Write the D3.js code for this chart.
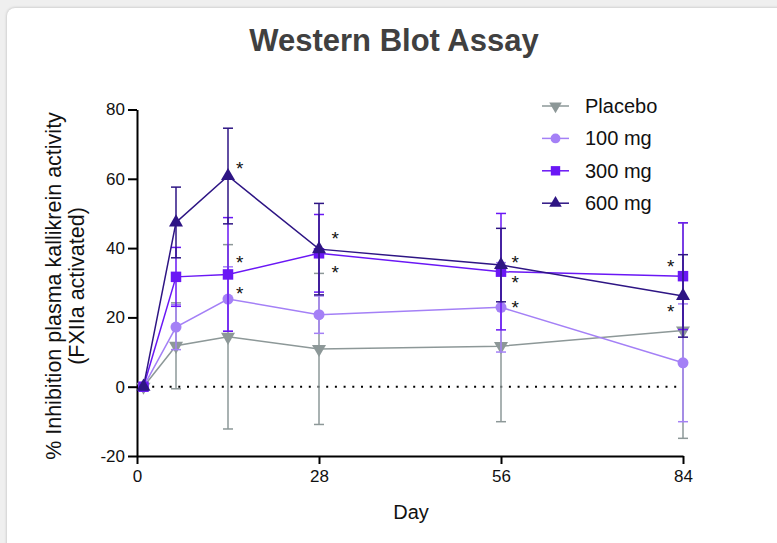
<!DOCTYPE html>
<html>
<head>
<meta charset="utf-8">
<script src="https://cdn.jsdelivr.net/npm/d3@7"></script>
<style>
  html, body { margin: 0; padding: 0; background: #efefef; }
  body { width: 777px; height: 543px; overflow: hidden; position: relative; }
  #card {
    position: absolute; left: 7px; top: 8px; width: 800px; height: 560px;
    background: #fff; border-radius: 8px;
    box-shadow: 0 0 3px rgba(0,0,0,0.25);
  }
  #chart-area { position: absolute; left: 0; top: 0; }
  text { font-family: Arial, "Liberation Sans", Helvetica, sans-serif; }
</style>
</head>
<body>
<div id="card"></div>
<div id="chart-area"></div>
<script>
var width = 777;
var height = 543;

// days of sampling
var days = [1, 6, 14, 28, 56, 84];
var xTicks = [0, 28, 56, 84];
var yTicks = [-20, 0, 20, 40, 60, 80];

// means and SD
var placebo    = [0, 11.8, 14.4, 10.9, 11.7, 16.2];
var placeboSD  = [0, 12.4, 26.6, 21.8, 21.8, 31.1];
var mg100      = [0, 17.2, 25.3, 20.8, 22.9, 6.9];
var mg100SD    = [0, 6.5, 9.3, 5.4, 12.9, 17.0];
var mg300      = [0, 31.7, 32.4, 38.5, 33.2, 31.9];
var mg300SD    = [0, 8.5, 16.4, 11.2, 16.8, 15.4];
var mg600      = [0, 47.4, 60.8, 39.7, 35.1, 26.2];
var mg600SD    = [0, 10.2, 13.8, 13.2, 10.6, 11.9];

var seriesNames = ["Placebo", "100 mg", "300 mg", "600 mg"];

// significance markers (day, value)
var starDays   = [15.8, 15.8, 15.8, 30.5, 30.5, 58.2, 58.2, 58.2, 82.1, 82.1];
var starValues = [64.3, 37.2, 28.1, 44.2, 34.2, 37.0, 31.4, 24.2, 35.9, 22.9];

var series = [
    {name: seriesNames[0], mean: placebo, sd: placeboSD, color: "#8d9898", symbol: d3.symbolTriangle, rotate: 180, size: 85},
    {name: seriesNames[1], mean: mg100,   sd: mg100SD,   color: "#a480f6", symbol: d3.symbolCircle,   rotate: 0,   size: 95},
    {name: seriesNames[2], mean: mg300,   sd: mg300SD,   color: "#6a17f5", symbol: d3.symbolSquare,   rotate: 0,   size: 110},
    {name: seriesNames[3], mean: mg600,   sd: mg600SD,   color: "#2e1584", symbol: d3.symbolTriangle, rotate: 0,   size: 85}
];

var svg = d3.select("#chart-area").append("svg")
    .attr("width", width)
    .attr("height", height);

var x = d3.scaleLinear()
    .domain([0, 84])
    .range([137, 683]);

var y = d3.scaleLinear()
    .domain([-20, 80])
    .range([456, 109.5]);

// title
svg.append("text")
    .attr("x", 394)
    .attr("y", 51)
    .attr("text-anchor", "middle")
    .attr("font-size", "31px")
    .attr("font-weight", "bold")
    .attr("fill", "#404040")
    .text("Western Blot Assay");

// zero reference line
svg.append("line")
    .attr("x1", x(1))
    .attr("x2", x(84))
    .attr("y1", y(0))
    .attr("y2", y(0))
    .attr("stroke", "#000")
    .attr("stroke-width", 2)
    .attr("stroke-dasharray", "2,6.7");

// axes
var xAxisGroup = svg.append("g")
    .attr("class", "x axis")
    .attr("transform", "translate(0, " + y(-20) + ")")
    .call(d3.axisBottom(x).tickValues(xTicks).tickSize(8).tickPadding(6).tickSizeOuter(0)
        .tickFormat((d) => { return String(d); }));

var yAxisGroup = svg.append("g")
    .attr("class", "y axis")
    .attr("transform", "translate(" + x(0) + ", 0)")
    .call(d3.axisLeft(y).tickValues(yTicks).tickSize(9).tickPadding(3).tickSizeOuter(0)
        .tickFormat((d) => { return String(d); }));

svg.selectAll(".axis path, .axis line")
    .attr("stroke", "#000")
    .attr("stroke-width", 2);
svg.selectAll(".axis text")
    .attr("font-size", "17px")
    .attr("fill", "#111");

// axis labels
svg.append("text")
    .attr("x", 411)
    .attr("y", 519)
    .attr("text-anchor", "middle")
    .attr("font-size", "20px")
    .attr("fill", "#111")
    .text("Day");

var labelY = svg.append("text")
    .attr("transform", "translate(61, 286) rotate(-90)")
    .attr("text-anchor", "middle")
    .attr("font-size", "21.5px")
    .attr("fill", "#111");
labelY.append("tspan").attr("x", 0).attr("y", 0).text("% Inhibition plasma kallikrein activity");
labelY.append("tspan").attr("x", 0).attr("y", 23).text("(FXIIa activated)");

var line = d3.line()
    .x((d, i) => { return x(days[i]); })
    .y((d) => { return y(d); });

var capW = 5;

series.forEach((s) => {
    var g = svg.append("g").attr("class", "series");

    // error bars
    var bars = g.selectAll(".err")
        .data(s.mean.map((m, i) => { return {day: days[i], m: m, sd: s.sd[i]}; }).filter((d) => { return d.sd > 0; }))
        .enter().append("g")
        .attr("class", "err")
        .attr("stroke", s.color)
        .attr("stroke-width", 1.5);
    bars.append("line")
        .attr("x1", (d) => { return x(d.day); })
        .attr("x2", (d) => { return x(d.day); })
        .attr("y1", (d) => { return y(d.m - d.sd); })
        .attr("y2", (d) => { return y(d.m + d.sd); });
    bars.append("line")
        .attr("x1", (d) => { return x(d.day) - capW; })
        .attr("x2", (d) => { return x(d.day) + capW; })
        .attr("y1", (d) => { return y(d.m + d.sd); })
        .attr("y2", (d) => { return y(d.m + d.sd); });
    bars.append("line")
        .attr("x1", (d) => { return x(d.day) - capW; })
        .attr("x2", (d) => { return x(d.day) + capW; })
        .attr("y1", (d) => { return y(d.m - d.sd); })
        .attr("y2", (d) => { return y(d.m - d.sd); });

    // connecting line
    g.append("path")
        .datum(s.mean)
        .attr("d", line)
        .attr("fill", "none")
        .attr("stroke", s.color)
        .attr("stroke-width", 1.5);

    // markers
    g.selectAll(".pt")
        .data(s.mean)
        .enter().append("path")
        .attr("class", "pt")
        .attr("d", d3.symbol().type(s.symbol).size(s.size))
        .attr("transform", (d, i) => { return "translate(" + x(days[i]) + "," + y(d) + ") rotate(" + s.rotate + ")"; })
        .attr("fill", s.color);
});

// asterisks
svg.selectAll(".star")
    .data(starDays)
    .enter().append("text")
    .attr("class", "star")
    .attr("x", (d) => { return x(d); })
    .attr("y", (d, i) => { return y(starValues[i]) + 11; })
    .attr("text-anchor", "middle")
    .attr("font-size", "19px")
    .attr("fill", "#111")
    .text("*");

// legend
var legend = svg.append("g")
    .attr("class", "legend")
    .attr("transform", "translate(542, 106)");

series.forEach((s, i) => {
    var row = legend.append("g")
        .attr("transform", "translate(0, " + (i * 32.4) + ")");
    row.append("line")
        .attr("x1", 0).attr("x2", 27)
        .attr("y1", 0).attr("y2", 0)
        .attr("stroke", s.color)
        .attr("stroke-width", 1.5);
    row.append("path")
        .attr("d", d3.symbol().type(s.symbol).size(s.size * 0.8))
        .attr("transform", "translate(13.5, 0) rotate(" + s.rotate + ")")
        .attr("fill", s.color);
    row.append("text")
        .attr("x", 43)
        .attr("y", 7)
        .attr("font-size", "20px")
        .attr("fill", "#111")
        .text(s.name);
});
</script>
</body>
</html>
